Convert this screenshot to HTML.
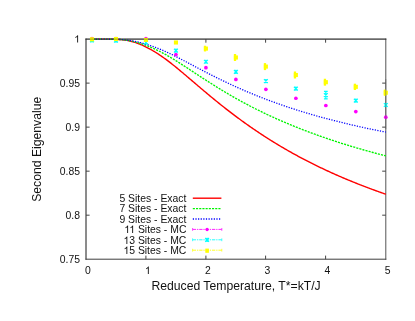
<!DOCTYPE html>
<html><head><meta charset="utf-8"><title>Second Eigenvalue</title>
<style>
html,body{margin:0;padding:0;background:#fff;}
body{width:415px;height:321px;overflow:hidden;}
svg{display:block;will-change:transform;}
.t{font-family:"Liberation Sans",sans-serif;fill:#111;}
.h{fill:none;}
.g{fill:#111;}

</style></head><body>
<svg width="415" height="321" viewBox="0 0 415 321">
<rect width="415" height="321" fill="#fff"/>
<path d="M86.0,38.6 V259.7" stroke="#191919" stroke-width="1"/>
<path d="M385.8,38.6 V259.7" stroke="#555" stroke-width="1"/>
<path d="M85.5,39.1 H386.3" stroke="#2a2a2a" stroke-width="1"/>
<path d="M85.5,259.2 H386.3" stroke="#3e3e3e" stroke-width="1"/>
<path d="M145.9,259.2 v-3.6 M145.9,39.1 v3.6" stroke="#444" stroke-width="1"/>
<path d="M86.0,83.12 h3.6 M385.8,83.12 h-3.6" stroke="#444" stroke-width="1"/>
<path d="M205.9,259.2 v-3.6 M205.9,39.1 v3.6" stroke="#444" stroke-width="1"/>
<path d="M86.0,127.13999999999999 h3.6 M385.8,127.13999999999999 h-3.6" stroke="#444" stroke-width="1"/>
<path d="M265.6,259.2 v-3.6 M265.6,39.1 v3.6" stroke="#444" stroke-width="1"/>
<path d="M86.0,171.16 h3.6 M385.8,171.16 h-3.6" stroke="#444" stroke-width="1"/>
<path d="M325.6,259.2 v-3.6 M325.6,39.1 v3.6" stroke="#444" stroke-width="1"/>
<path d="M86.0,215.17999999999998 h3.6 M385.8,215.17999999999998 h-3.6" stroke="#444" stroke-width="1"/>
<path d="M90.50,39.10 L91.48,39.10 L92.47,39.10 L93.45,39.10 L94.44,39.10 L95.42,39.11 L96.41,39.11 L97.39,39.11 L98.37,39.11 L99.36,39.11 L100.34,39.12 L101.33,39.12 L102.31,39.12 L103.30,39.13 L104.28,39.13 L105.27,39.14 L106.25,39.15 L107.23,39.16 L108.22,39.17 L109.20,39.18 L110.19,39.19 L111.17,39.21 L112.16,39.22 L113.14,39.25 L114.12,39.27 L115.11,39.30 L116.09,39.34 L117.08,39.38 L118.06,39.43 L119.05,39.50 L120.03,39.57 L121.01,39.65 L122.00,39.74 L122.98,39.85 L123.97,39.97 L124.95,40.10 L125.94,40.25 L126.92,40.42 L127.90,40.60 L128.89,40.80 L129.87,41.02 L130.86,41.26 L131.84,41.51 L132.83,41.78 L133.81,42.07 L134.80,42.37 L135.78,42.69 L136.76,43.03 L137.75,43.39 L138.73,43.76 L139.72,44.15 L140.70,44.55 L141.69,44.97 L142.67,45.41 L143.65,45.86 L144.64,46.32 L145.62,46.79 L146.61,47.28 L147.59,47.79 L148.58,48.30 L149.56,48.83 L150.54,49.37 L151.53,49.93 L152.51,50.49 L153.50,51.07 L154.48,51.66 L155.47,52.27 L156.45,52.88 L157.43,53.51 L158.42,54.15 L159.40,54.80 L160.39,55.46 L161.37,56.13 L162.36,56.81 L163.34,57.51 L164.32,58.21 L165.31,58.93 L166.29,59.65 L167.28,60.39 L168.26,61.13 L169.25,61.88 L170.23,62.64 L171.22,63.41 L172.20,64.19 L173.18,64.97 L174.17,65.76 L175.15,66.55 L176.14,67.35 L177.12,68.16 L178.11,68.97 L179.09,69.79 L180.07,70.61 L181.06,71.43 L182.04,72.25 L183.03,73.08 L184.01,73.92 L185.00,74.75 L185.98,75.58 L186.96,76.42 L187.95,77.26 L188.93,78.10 L189.92,78.94 L190.90,79.78 L191.89,80.62 L192.87,81.46 L193.86,82.30 L194.84,83.14 L195.82,83.98 L196.81,84.82 L197.79,85.66 L198.78,86.50 L199.76,87.34 L200.75,88.17 L201.73,89.00 L202.71,89.84 L203.70,90.67 L204.68,91.49 L205.67,92.32 L206.65,93.15 L207.64,93.97 L208.62,94.79 L209.60,95.61 L210.59,96.42 L211.57,97.23 L212.56,98.04 L213.54,98.85 L214.53,99.66 L215.51,100.46 L216.49,101.26 L217.48,102.06 L218.46,102.85 L219.45,103.64 L220.43,104.43 L221.42,105.22 L222.40,106.00 L223.39,106.78 L224.37,107.55 L225.35,108.33 L226.34,109.09 L227.32,109.86 L228.31,110.62 L229.29,111.38 L230.28,112.14 L231.26,112.89 L232.24,113.64 L233.23,114.39 L234.21,115.13 L235.20,115.87 L236.18,116.61 L237.17,117.34 L238.15,118.07 L239.13,118.80 L240.12,119.52 L241.10,120.24 L242.09,120.96 L243.07,121.67 L244.06,122.38 L245.04,123.08 L246.02,123.79 L247.01,124.48 L247.99,125.18 L248.98,125.87 L249.96,126.56 L250.95,127.24 L251.93,127.92 L252.92,128.60 L253.90,129.28 L254.88,129.95 L255.87,130.62 L256.85,131.28 L257.84,131.94 L258.82,132.60 L259.81,133.25 L260.79,133.90 L261.77,134.55 L262.76,135.19 L263.74,135.84 L264.73,136.47 L265.71,137.11 L266.70,137.74 L267.68,138.36 L268.66,138.99 L269.65,139.61 L270.63,140.23 L271.62,140.84 L272.60,141.45 L273.59,142.06 L274.57,142.67 L275.55,143.27 L276.54,143.87 L277.52,144.46 L278.51,145.05 L279.49,145.64 L280.48,146.23 L281.46,146.81 L282.45,147.39 L283.43,147.97 L284.41,148.54 L285.40,149.11 L286.38,149.68 L287.37,150.24 L288.35,150.80 L289.34,151.36 L290.32,151.92 L291.30,152.47 L292.29,153.02 L293.27,153.57 L294.26,154.11 L295.24,154.65 L296.23,155.19 L297.21,155.73 L298.19,156.26 L299.18,156.79 L300.16,157.31 L301.15,157.84 L302.13,158.36 L303.12,158.88 L304.10,159.39 L305.08,159.91 L306.07,160.42 L307.05,160.93 L308.04,161.43 L309.02,161.93 L310.01,162.43 L310.99,162.93 L311.98,163.43 L312.96,163.92 L313.94,164.41 L314.93,164.90 L315.91,165.38 L316.90,165.86 L317.88,166.34 L318.87,166.82 L319.85,167.29 L320.83,167.77 L321.82,168.24 L322.80,168.70 L323.79,169.17 L324.77,169.63 L325.76,170.09 L326.74,170.55 L327.72,171.00 L328.71,171.46 L329.69,171.91 L330.68,172.36 L331.66,172.80 L332.65,173.25 L333.63,173.69 L334.61,174.13 L335.60,174.57 L336.58,175.00 L337.57,175.43 L338.55,175.86 L339.54,176.29 L340.52,176.72 L341.50,177.14 L342.49,177.57 L343.47,177.99 L344.46,178.40 L345.44,178.82 L346.43,179.23 L347.41,179.64 L348.40,180.05 L349.38,180.46 L350.36,180.87 L351.35,181.27 L352.33,181.67 L353.32,182.07 L354.30,182.47 L355.29,182.87 L356.27,183.26 L357.25,183.65 L358.24,184.04 L359.22,184.43 L360.21,184.82 L361.19,185.20 L362.18,185.58 L363.16,185.96 L364.14,186.34 L365.13,186.72 L366.11,187.09 L367.10,187.47 L368.08,187.84 L369.07,188.21 L370.05,188.58 L371.04,188.94 L372.02,189.31 L373.00,189.67 L373.99,190.03 L374.97,190.39 L375.96,190.75 L376.94,191.10 L377.93,191.46 L378.91,191.81 L379.89,192.16 L380.88,192.51 L381.86,192.86 L382.85,193.20 L383.83,193.55 L384.82,193.89 L385.80,194.23" fill="none" stroke="#ff0000" stroke-width="1.4"/>
<path d="M90.50,39.10 L91.48,39.10 L92.47,39.10 L93.45,39.10 L94.44,39.10 L95.42,39.11 L96.41,39.11 L97.39,39.11 L98.37,39.11 L99.36,39.11 L100.34,39.11 L101.33,39.12 L102.31,39.12 L103.30,39.13 L104.28,39.13 L105.27,39.14 L106.25,39.14 L107.23,39.15 L108.22,39.16 L109.20,39.17 L110.19,39.18 L111.17,39.20 L112.16,39.22 L113.14,39.24 L114.12,39.26 L115.11,39.29 L116.09,39.33 L117.08,39.37 L118.06,39.41 L119.05,39.47 L120.03,39.53 L121.01,39.60 L122.00,39.68 L122.98,39.77 L123.97,39.87 L124.95,39.98 L125.94,40.11 L126.92,40.24 L127.90,40.39 L128.89,40.55 L129.87,40.73 L130.86,40.92 L131.84,41.12 L132.83,41.33 L133.81,41.56 L134.80,41.80 L135.78,42.05 L136.76,42.31 L137.75,42.59 L138.73,42.88 L139.72,43.17 L140.70,43.48 L141.69,43.81 L142.67,44.14 L143.65,44.48 L144.64,44.83 L145.62,45.20 L146.61,45.57 L147.59,45.95 L148.58,46.34 L149.56,46.74 L150.54,47.15 L151.53,47.57 L152.51,48.00 L153.50,48.44 L154.48,48.88 L155.47,49.34 L156.45,49.80 L157.43,50.28 L158.42,50.76 L159.40,51.25 L160.39,51.75 L161.37,52.26 L162.36,52.78 L163.34,53.31 L164.32,53.84 L165.31,54.39 L166.29,54.94 L167.28,55.50 L168.26,56.06 L169.25,56.64 L170.23,57.22 L171.22,57.80 L172.20,58.40 L173.18,59.00 L174.17,59.60 L175.15,60.21 L176.14,60.82 L177.12,61.44 L178.11,62.06 L179.09,62.69 L180.07,63.32 L181.06,63.95 L182.04,64.58 L183.03,65.22 L184.01,65.86 L185.00,66.50 L185.98,67.14 L186.96,67.79 L187.95,68.43 L188.93,69.08 L189.92,69.72 L190.90,70.37 L191.89,71.02 L192.87,71.67 L193.86,72.31 L194.84,72.96 L195.82,73.61 L196.81,74.25 L197.79,74.90 L198.78,75.54 L199.76,76.18 L200.75,76.83 L201.73,77.47 L202.71,78.11 L203.70,78.75 L204.68,79.38 L205.67,80.02 L206.65,80.65 L207.64,81.28 L208.62,81.91 L209.60,82.54 L210.59,83.17 L211.57,83.79 L212.56,84.41 L213.54,85.03 L214.53,85.65 L215.51,86.27 L216.49,86.88 L217.48,87.49 L218.46,88.10 L219.45,88.70 L220.43,89.30 L221.42,89.90 L222.40,90.50 L223.39,91.09 L224.37,91.68 L225.35,92.27 L226.34,92.86 L227.32,93.44 L228.31,94.02 L229.29,94.60 L230.28,95.17 L231.26,95.74 L232.24,96.31 L233.23,96.87 L234.21,97.43 L235.20,97.99 L236.18,98.55 L237.17,99.10 L238.15,99.65 L239.13,100.20 L240.12,100.74 L241.10,101.28 L242.09,101.82 L243.07,102.35 L244.06,102.88 L245.04,103.41 L246.02,103.93 L247.01,104.45 L247.99,104.97 L248.98,105.49 L249.96,106.00 L250.95,106.51 L251.93,107.02 L252.92,107.52 L253.90,108.02 L254.88,108.52 L255.87,109.01 L256.85,109.51 L257.84,110.00 L258.82,110.48 L259.81,110.97 L260.79,111.45 L261.77,111.92 L262.76,112.40 L263.74,112.87 L264.73,113.34 L265.71,113.81 L266.70,114.27 L267.68,114.74 L268.66,115.19 L269.65,115.65 L270.63,116.11 L271.62,116.56 L272.60,117.01 L273.59,117.45 L274.57,117.90 L275.55,118.34 L276.54,118.78 L277.52,119.22 L278.51,119.65 L279.49,120.08 L280.48,120.51 L281.46,120.94 L282.45,121.37 L283.43,121.79 L284.41,122.21 L285.40,122.63 L286.38,123.05 L287.37,123.46 L288.35,123.87 L289.34,124.28 L290.32,124.69 L291.30,125.10 L292.29,125.50 L293.27,125.90 L294.26,126.30 L295.24,126.70 L296.23,127.10 L297.21,127.49 L298.19,127.88 L299.18,128.27 L300.16,128.66 L301.15,129.04 L302.13,129.43 L303.12,129.81 L304.10,130.19 L305.08,130.57 L306.07,130.94 L307.05,131.32 L308.04,131.69 L309.02,132.06 L310.01,132.43 L310.99,132.79 L311.98,133.16 L312.96,133.52 L313.94,133.88 L314.93,134.24 L315.91,134.60 L316.90,134.95 L317.88,135.31 L318.87,135.66 L319.85,136.01 L320.83,136.36 L321.82,136.70 L322.80,137.05 L323.79,137.39 L324.77,137.73 L325.76,138.07 L326.74,138.41 L327.72,138.75 L328.71,139.08 L329.69,139.41 L330.68,139.74 L331.66,140.07 L332.65,140.40 L333.63,140.73 L334.61,141.05 L335.60,141.37 L336.58,141.69 L337.57,142.01 L338.55,142.33 L339.54,142.65 L340.52,142.96 L341.50,143.27 L342.49,143.59 L343.47,143.90 L344.46,144.20 L345.44,144.51 L346.43,144.81 L347.41,145.12 L348.40,145.42 L349.38,145.72 L350.36,146.02 L351.35,146.32 L352.33,146.61 L353.32,146.91 L354.30,147.20 L355.29,147.49 L356.27,147.78 L357.25,148.07 L358.24,148.36 L359.22,148.64 L360.21,148.93 L361.19,149.21 L362.18,149.49 L363.16,149.77 L364.14,150.05 L365.13,150.32 L366.11,150.60 L367.10,150.87 L368.08,151.15 L369.07,151.42 L370.05,151.69 L371.04,151.96 L372.02,152.23 L373.00,152.49 L373.99,152.76 L374.97,153.02 L375.96,153.28 L376.94,153.55 L377.93,153.81 L378.91,154.06 L379.89,154.32 L380.88,154.58 L381.86,154.83 L382.85,155.09 L383.83,155.34 L384.82,155.59 L385.80,155.84" fill="none" stroke="#00f400" stroke-width="1.35" stroke-dasharray="2.1 1.1"/>
<path d="M90.50,39.10 L91.48,39.10 L92.47,39.10 L93.45,39.10 L94.44,39.10 L95.42,39.10 L96.41,39.11 L97.39,39.11 L98.37,39.11 L99.36,39.11 L100.34,39.11 L101.33,39.12 L102.31,39.12 L103.30,39.12 L104.28,39.13 L105.27,39.13 L106.25,39.14 L107.23,39.15 L108.22,39.16 L109.20,39.17 L110.19,39.18 L111.17,39.19 L112.16,39.21 L113.14,39.23 L114.12,39.25 L115.11,39.28 L116.09,39.31 L117.08,39.35 L118.06,39.39 L119.05,39.43 L120.03,39.49 L121.01,39.55 L122.00,39.62 L122.98,39.69 L123.97,39.78 L124.95,39.87 L125.94,39.97 L126.92,40.09 L127.90,40.21 L128.89,40.34 L129.87,40.49 L130.86,40.64 L131.84,40.80 L132.83,40.98 L133.81,41.16 L134.80,41.35 L135.78,41.56 L136.76,41.77 L137.75,41.99 L138.73,42.22 L139.72,42.46 L140.70,42.71 L141.69,42.97 L142.67,43.24 L143.65,43.51 L144.64,43.80 L145.62,44.09 L146.61,44.38 L147.59,44.69 L148.58,45.00 L149.56,45.32 L150.54,45.65 L151.53,45.99 L152.51,46.33 L153.50,46.68 L154.48,47.04 L155.47,47.41 L156.45,47.78 L157.43,48.16 L158.42,48.55 L159.40,48.94 L160.39,49.35 L161.37,49.76 L162.36,50.17 L163.34,50.60 L164.32,51.03 L165.31,51.47 L166.29,51.91 L167.28,52.36 L168.26,52.82 L169.25,53.28 L170.23,53.75 L171.22,54.23 L172.20,54.70 L173.18,55.19 L174.17,55.68 L175.15,56.17 L176.14,56.66 L177.12,57.16 L178.11,57.66 L179.09,58.17 L180.07,58.68 L181.06,59.19 L182.04,59.70 L183.03,60.21 L184.01,60.73 L185.00,61.25 L185.98,61.76 L186.96,62.28 L187.95,62.80 L188.93,63.32 L189.92,63.84 L190.90,64.36 L191.89,64.88 L192.87,65.40 L193.86,65.92 L194.84,66.44 L195.82,66.96 L196.81,67.48 L197.79,68.00 L198.78,68.52 L199.76,69.03 L200.75,69.55 L201.73,70.06 L202.71,70.57 L203.70,71.09 L204.68,71.60 L205.67,72.10 L206.65,72.61 L207.64,73.12 L208.62,73.62 L209.60,74.12 L210.59,74.62 L211.57,75.12 L212.56,75.62 L213.54,76.11 L214.53,76.61 L215.51,77.10 L216.49,77.59 L217.48,78.07 L218.46,78.56 L219.45,79.04 L220.43,79.52 L221.42,80.00 L222.40,80.48 L223.39,80.95 L224.37,81.42 L225.35,81.89 L226.34,82.36 L227.32,82.83 L228.31,83.29 L229.29,83.75 L230.28,84.21 L231.26,84.67 L232.24,85.12 L233.23,85.57 L234.21,86.02 L235.20,86.47 L236.18,86.91 L237.17,87.36 L238.15,87.80 L239.13,88.23 L240.12,88.67 L241.10,89.10 L242.09,89.53 L243.07,89.96 L244.06,90.39 L245.04,90.81 L246.02,91.23 L247.01,91.65 L247.99,92.07 L248.98,92.48 L249.96,92.90 L250.95,93.31 L251.93,93.71 L252.92,94.12 L253.90,94.52 L254.88,94.92 L255.87,95.32 L256.85,95.72 L257.84,96.11 L258.82,96.50 L259.81,96.89 L260.79,97.28 L261.77,97.66 L262.76,98.05 L263.74,98.43 L264.73,98.80 L265.71,99.18 L266.70,99.55 L267.68,99.93 L268.66,100.30 L269.65,100.66 L270.63,101.03 L271.62,101.39 L272.60,101.75 L273.59,102.11 L274.57,102.47 L275.55,102.82 L276.54,103.17 L277.52,103.53 L278.51,103.87 L279.49,104.22 L280.48,104.56 L281.46,104.91 L282.45,105.25 L283.43,105.59 L284.41,105.92 L285.40,106.26 L286.38,106.59 L287.37,106.92 L288.35,107.25 L289.34,107.58 L290.32,107.90 L291.30,108.22 L292.29,108.54 L293.27,108.86 L294.26,109.18 L295.24,109.50 L296.23,109.81 L297.21,110.12 L298.19,110.43 L299.18,110.74 L300.16,111.05 L301.15,111.35 L302.13,111.65 L303.12,111.96 L304.10,112.25 L305.08,112.55 L306.07,112.85 L307.05,113.14 L308.04,113.44 L309.02,113.73 L310.01,114.02 L310.99,114.30 L311.98,114.59 L312.96,114.87 L313.94,115.16 L314.93,115.44 L315.91,115.72 L316.90,116.00 L317.88,116.27 L318.87,116.55 L319.85,116.82 L320.83,117.09 L321.82,117.36 L322.80,117.63 L323.79,117.90 L324.77,118.16 L325.76,118.43 L326.74,118.69 L327.72,118.95 L328.71,119.21 L329.69,119.47 L330.68,119.73 L331.66,119.98 L332.65,120.24 L333.63,120.49 L334.61,120.74 L335.60,120.99 L336.58,121.24 L337.57,121.49 L338.55,121.73 L339.54,121.98 L340.52,122.22 L341.50,122.46 L342.49,122.70 L343.47,122.94 L344.46,123.18 L345.44,123.42 L346.43,123.65 L347.41,123.88 L348.40,124.12 L349.38,124.35 L350.36,124.58 L351.35,124.81 L352.33,125.04 L353.32,125.26 L354.30,125.49 L355.29,125.71 L356.27,125.94 L357.25,126.16 L358.24,126.38 L359.22,126.60 L360.21,126.82 L361.19,127.03 L362.18,127.25 L363.16,127.46 L364.14,127.68 L365.13,127.89 L366.11,128.10 L367.10,128.31 L368.08,128.52 L369.07,128.73 L370.05,128.94 L371.04,129.14 L372.02,129.35 L373.00,129.55 L373.99,129.76 L374.97,129.96 L375.96,130.16 L376.94,130.36 L377.93,130.56 L378.91,130.76 L379.89,130.95 L380.88,131.15 L381.86,131.34 L382.85,131.54 L383.83,131.73 L384.82,131.92 L385.80,132.11" fill="none" stroke="#0000ff" stroke-width="1.28" stroke-dasharray="1.2 1.42"/>
<circle cx="92.00" cy="38.65" r="1.85" fill="#ff00ff"/>
<circle cx="115.98" cy="38.65" r="1.85" fill="#ff00ff"/>
<circle cx="145.96" cy="38.70" r="1.85" fill="#ff00ff"/>
<circle cx="175.94" cy="54.55" r="1.85" fill="#ff00ff"/>
<circle cx="205.92" cy="67.65" r="1.85" fill="#ff00ff"/>
<circle cx="235.90" cy="79.45" r="1.85" fill="#ff00ff"/>
<circle cx="265.88" cy="89.35" r="1.85" fill="#ff00ff"/>
<circle cx="295.86" cy="98.25" r="1.85" fill="#ff00ff"/>
<circle cx="325.84" cy="105.50" r="1.85" fill="#ff00ff"/>
<circle cx="355.82" cy="111.60" r="1.85" fill="#ff00ff"/>
<circle cx="385.80" cy="117.20" r="1.85" fill="#ff00ff"/>
<path d="M90.10,38.45 L93.90,42.25 M93.90,38.45 L90.10,42.25 M92.00,38.25 V42.45" stroke="#00ffff" stroke-width="1.25" fill="none"/>
<path d="M114.08,38.65 L117.88,42.45 M117.88,38.65 L114.08,42.45 M115.98,38.45 V42.65" stroke="#00ffff" stroke-width="1.25" fill="none"/>
<path d="M144.06,40.50 L147.86,44.30 M147.86,40.50 L144.06,44.30 M145.96,40.30 V44.50" stroke="#00ffff" stroke-width="1.25" fill="none"/>
<path d="M174.04,48.75 L177.84,52.55 M177.84,48.75 L174.04,52.55 M175.94,48.55 V52.75" stroke="#00ffff" stroke-width="1.25" fill="none"/>
<path d="M204.02,59.85 L207.82,63.65 M207.82,59.85 L204.02,63.65 M205.92,59.65 V63.85" stroke="#00ffff" stroke-width="1.25" fill="none"/>
<path d="M234.00,69.95 L237.80,73.75 M237.80,69.95 L234.00,73.75 M235.90,69.75 V73.95" stroke="#00ffff" stroke-width="1.25" fill="none"/>
<path d="M263.98,79.15 L267.78,82.95 M267.78,79.15 L263.98,82.95 M265.88,78.95 V83.15" stroke="#00ffff" stroke-width="1.25" fill="none"/>
<path d="M293.96,86.75 L297.76,90.55 M297.76,86.75 L293.96,90.55 M295.86,86.55 V90.75" stroke="#00ffff" stroke-width="1.25" fill="none"/>
<path d="M323.94,93.15 L327.74,96.95 M327.74,93.15 L323.94,96.95 M325.84,92.95 V97.15 M325.84,90.95 V99.15 M323.94,91.35 h3.8 M323.94,98.75 h3.8" stroke="#00ffff" stroke-width="1.25" fill="none"/>
<path d="M353.92,98.70 L357.72,102.50 M357.72,98.70 L353.92,102.50 M355.82,98.50 V102.70" stroke="#00ffff" stroke-width="1.25" fill="none"/>
<path d="M383.90,103.10 L387.70,106.90 M387.70,103.10 L383.90,106.90 M385.80,102.90 V107.10" stroke="#00ffff" stroke-width="1.25" fill="none"/>
<rect x="89.95" y="37.25" width="4.1" height="4.1" fill="#ffff00"/>
<rect x="113.93" y="36.95" width="4.1" height="4.1" fill="#ffff00"/>
<rect x="143.91" y="37.85" width="4.1" height="4.1" fill="#ffff00"/>
<rect x="173.89" y="40.45" width="4.1" height="4.1" fill="#ffff00"/>
<rect x="203.87" y="46.55" width="4.1" height="4.1" fill="#ffff00"/><rect x="203.87" y="45.75" width="2.3" height="5.70" fill="#ffff00"/>
<rect x="233.85" y="55.45" width="4.1" height="4.1" fill="#ffff00"/><rect x="233.85" y="54.00" width="2.3" height="7.00" fill="#ffff00"/>
<rect x="263.83" y="64.55" width="4.1" height="4.1" fill="#ffff00"/><rect x="263.83" y="63.10" width="2.3" height="7.00" fill="#ffff00"/>
<rect x="293.81" y="72.95" width="4.1" height="4.1" fill="#ffff00"/><rect x="293.81" y="71.50" width="2.3" height="7.00" fill="#ffff00"/>
<rect x="323.79" y="80.15" width="4.1" height="4.1" fill="#ffff00"/><rect x="323.79" y="78.75" width="2.3" height="6.90" fill="#ffff00"/>
<rect x="353.77" y="84.80" width="4.1" height="4.1" fill="#ffff00"/><rect x="353.77" y="83.70" width="2.3" height="6.30" fill="#ffff00"/>
<rect x="383.75" y="90.65" width="4.1" height="4.1" fill="#ffff00"/><rect x="383.75" y="89.60" width="2.3" height="6.20" fill="#ffff00"/>
<path d="M85.5,39.1 H386.3" stroke="#2a2a2a" stroke-width="1" opacity="0.45"/>
<path d="M385.8,79.1 V129.1" stroke="#555" stroke-width="1" opacity="0.55"/>
<path d="M192.8,198.2 H221.4" stroke="#ff0000" stroke-width="1.4"/>
<path d="M192.8,208.6 H221.4" stroke="#00f400" stroke-width="1.35" stroke-dasharray="2.1 1.1"/>
<path d="M192.8,219 H221.4" stroke="#0000ff" stroke-width="1.28" stroke-dasharray="1.2 1.42"/>
<path d="M192.8,229.4 H221.8" stroke="#ff00ff" stroke-width="1.0" stroke-dasharray="3.3 0.9 1.3 0.9" opacity="0.85"/>
<path d="M192.60000000000002,228.0 v2.8 M221.8,228.0 v2.8" stroke="#ff00ff" stroke-width="0.9" opacity="0.8"/>
<path d="M192.8,239.8 H221.8" stroke="#00ffff" stroke-width="1.0" stroke-dasharray="3.3 0.9 1.3 0.9" opacity="0.85"/>
<path d="M192.60000000000002,238.4 v2.8 M221.8,238.4 v2.8" stroke="#00ffff" stroke-width="0.9" opacity="0.8"/>
<path d="M192.8,250.2 H221.8" stroke="#ffff00" stroke-width="1.0" stroke-dasharray="3.3 0.9 1.3 0.9" opacity="0.85"/>
<path d="M192.60000000000002,248.79999999999998 v2.8 M221.8,248.79999999999998 v2.8" stroke="#ffff00" stroke-width="0.9" opacity="0.8"/>
<circle cx="207.1" cy="229.5" r="1.65" fill="#ff00ff"/>
<path d="M205.20,238.00 L209.00,241.80 M209.00,238.00 L205.20,241.80 M207.10,237.80 V242.00" stroke="#00ffff" stroke-width="1.25" fill="none"/>
<rect x="205.29999999999998" y="248.6" width="3.6" height="4.2" fill="#ffff00"/>
<g id="txt">
<text x="186.4" y="201.89999999999998" text-anchor="end" font-size="10.4" class="t">5 Sites - Exact</text>
<text x="186.4" y="212.29999999999998" text-anchor="end" font-size="10.4" class="t">7 Sites - Exact</text>
<text x="186.4" y="222.7" text-anchor="end" font-size="10.4" class="t">9 Sites - Exact</text>
<text x="186.4" y="233.1" text-anchor="end" font-size="10.4" class="t"><tspan class="h">1</tspan><tspan class="h">1</tspan> Sites - MC</text>
<text x="186.4" y="243.5" text-anchor="end" font-size="10.4" class="t"><tspan class="h">1</tspan>3 Sites - MC</text>
<text x="186.4" y="253.89999999999998" text-anchor="end" font-size="10.4" class="t"><tspan class="h">1</tspan>5 Sites - MC</text>
<text x="87.9" y="273.5" text-anchor="middle" font-size="10.4" class="t">0</text>
<text x="147.8" y="273.5" text-anchor="middle" font-size="10.4" class="t"><tspan class="h">1</tspan></text>
<text x="207.8" y="273.5" text-anchor="middle" font-size="10.4" class="t">2</text>
<text x="267.5" y="273.5" text-anchor="middle" font-size="10.4" class="t">3</text>
<text x="327.5" y="273.5" text-anchor="middle" font-size="10.4" class="t">4</text>
<text x="387.7" y="273.5" text-anchor="middle" font-size="10.4" class="t">5</text>
<text x="80.0" y="42.800000000000004" text-anchor="end" font-size="10.4" class="t"><tspan class="h">1</tspan></text>
<text x="80.0" y="86.82000000000001" text-anchor="end" font-size="10.4" class="t">0.95</text>
<text x="80.0" y="130.83999999999997" text-anchor="end" font-size="10.4" class="t">0.9</text>
<text x="80.0" y="174.85999999999999" text-anchor="end" font-size="10.4" class="t">0.85</text>
<text x="80.0" y="218.87999999999997" text-anchor="end" font-size="10.4" class="t">0.8</text>
<text x="80.0" y="262.9" text-anchor="end" font-size="10.4" class="t">0.75</text>
<text x="236.05" y="289.9" text-anchor="middle" font-size="12.2" class="t">Reduced Temperature, T*=kT/J</text>
<text transform="translate(41.2,149.3) rotate(-90)" text-anchor="middle" font-size="12.2" class="t">Second Eigenvalue</text>
<path transform="translate(124.212,233.000) scale(0.005078)" class="g" d="M763,0 H583 V-1147 Q518,-1085 412.5,-1023 T223,-930 V-1104 Q373,-1174.5 485,-1275 T644,-1470 H763 Z"/>
<path transform="translate(129.228,233.000) scale(0.005078)" class="g" d="M763,0 H583 V-1147 Q518,-1085 412.5,-1023 T223,-930 V-1104 Q373,-1174.5 485,-1275 T644,-1470 H763 Z"/>
<path transform="translate(123.447,244.000) scale(0.005078)" class="g" d="M763,0 H583 V-1147 Q518,-1085 412.5,-1023 T223,-930 V-1104 Q373,-1174.5 485,-1275 T644,-1470 H763 Z"/>
<path transform="translate(123.447,254.000) scale(0.005078)" class="g" d="M763,0 H583 V-1147 Q518,-1085 412.5,-1023 T223,-930 V-1104 Q373,-1174.5 485,-1275 T644,-1470 H763 Z"/>
<path transform="translate(144.909,274.000) scale(0.005078)" class="g" d="M763,0 H583 V-1147 Q518,-1085 412.5,-1023 T223,-930 V-1104 Q373,-1174.5 485,-1275 T644,-1470 H763 Z"/>
<path transform="translate(74.219,42.600) scale(0.005078)" class="g" d="M763,0 H583 V-1147 Q518,-1085 412.5,-1023 T223,-930 V-1104 Q373,-1174.5 485,-1275 T644,-1470 H763 Z"/>
</g>
</svg>
</body></html>
